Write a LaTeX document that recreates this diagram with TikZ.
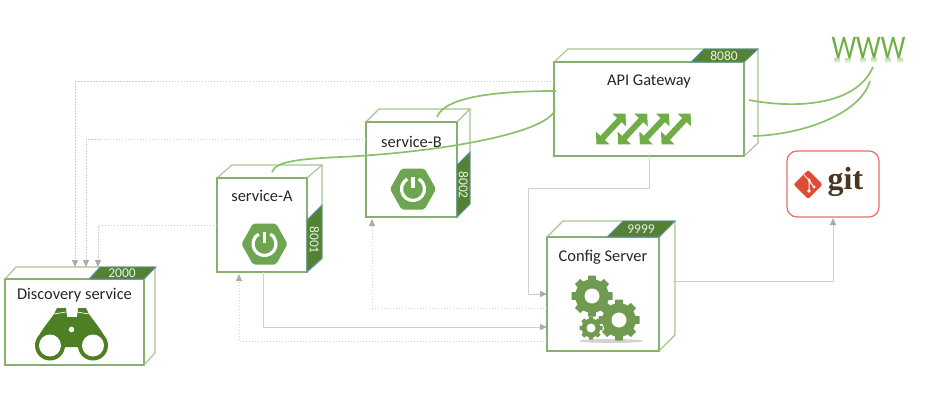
\documentclass[tikz,border=0pt]{standalone}
\usepackage{fontspec}
\setmainfont{Carlito}
\newfontfamily\gitfont{Liberation Serif}
\usepackage{xcolor}
\usepackage{tikz}
\usetikzlibrary{positioning, arrows.meta, fadings}

\definecolor{edgegreen}{HTML}{86B06E}
\definecolor{backgreen}{HTML}{A3C490}
\definecolor{curvegreen}{HTML}{8CC06C}
\definecolor{taggreen}{HTML}{548235}
\definecolor{tagblue}{HTML}{5F8FBF}
\definecolor{springgreen}{HTML}{6DA550}
\definecolor{darkgreen}{HTML}{4C8022}
\definecolor{arrowgreen}{HTML}{70AD47}
\definecolor{gearfill}{HTML}{6F9A50}
\definecolor{linegray}{HTML}{D0D0D0}
\definecolor{tipgray}{HTML}{ABABAB}
\definecolor{gitred}{HTML}{DE4C36}
\definecolor{gitbrown}{HTML}{4A3520}
\definecolor{gitedge}{HTML}{F06A6A}

\newcommand{\cubenode}[7]{
    \node[frontface, minimum width=#4pt, minimum height=#5pt] (#1) at (#2,#3) {};
    \draw[backedge] (#1.north west) -- ++(#6,-#7) -- ++(#4,0) -- ++(0,#5) -- (#1.south east);
    \draw[backedge] (#1.north east) -- ++(#6,-#7);
}

\begin{document}
\begin{tikzpicture}[x=1pt, y=-1pt, >=Stealth,
        frontface/.style={draw=edgegreen, fill=white, line width=1.1pt, inner sep=0pt, outer sep=0pt, anchor=north west},
        backedge/.style={draw=backgreen, line width=1.1pt},
        boxtitle/.style={font=\fontsize{16.4}{18}\selectfont, text=black!85, inner sep=0pt},
        tagface/.style={fill=taggreen, draw=tagblue, line width=0.8pt},
        tagtext/.style={font=\fontsize{13.5}{14}\selectfont, text=white!88!taggreen, inner sep=0pt},
        dotline/.style={draw=linegray, line width=1pt, dash pattern=on 1.5pt off 1.5pt, -{Triangle[length=7pt, width=6pt, color=tipgray]}},
        solidline/.style={draw=linegray, line width=1pt, -{Triangle[length=7pt, width=6pt, color=tipgray]}},
        greenline/.style={draw=curvegreen, line width=1.7pt},
        springicon/.pic={
            \fill[springgreen, rounded corners=2pt] (-23,0) -- (-11.5,-20.5) -- (11.5,-20.5) -- (23,0) -- (11.5,20.5) -- (-11.5,20.5) -- cycle;
            \draw[white, line width=3.2pt] (120:11.5pt) arc[start angle=120, end angle=420, radius=11.5pt];
            \draw[white, line width=3.2pt] (0pt,1pt) -- (0pt,12.5pt);
        },
        pics/gearicon/.style 2 args={code={
            \fill[gearfill] (0,0) circle ({0.82*#1});
            \foreach \a in {0,45,...,315}
                \fill[gearfill, rotate=\a] ({-0.27*#1},0) -- ({-0.18*#1},{#1}) -- ({0.18*#1},{#1}) -- ({0.27*#1},0) -- cycle;
            \fill[white] (0,0) circle (#2);
        }}
    ]

    \useasboundingbox (0,0) rectangle (930,404);

    \cubenode{discovery}{5}{279}{139}{86}{11}{12}
    \cubenode{svca}{217}{178}{90}{94}{15}{13}
    \cubenode{svcb}{366}{122}{91}{95}{13}{13}
    \cubenode{gateway}{554}{62}{190}{94}{14}{13}
    \cubenode{config}{547}{237}{112}{114}{16}{16}

    \node[draw=gitedge, fill=white, rounded corners=10pt, line width=1.2pt, minimum width=92pt, minimum height=66pt, inner sep=0pt, outer sep=0pt] (git) at (833,184) {};
    \node[font=\fontsize{33}{34}\selectfont, text=arrowgreen, inner sep=0pt, xscale=0.84] (www) at (868.5,47.5) {WWW};
    \coordinate (wwwupper) at (873,67);
    \coordinate (wwwlower) at (870,81);
    \coordinate (cfgbend) at (528,188);

    \node[boxtitle, below=9pt of discovery.north] (discoverytitle) {Discovery service};
    \node[boxtitle, below=12pt of svca.north] (svcatitle) {service-A};
    \node[boxtitle, below=14pt of svcb.north] (svcbtitle) {service-B};
    \node[boxtitle, below=13pt of gateway.north] (gatewaytitle) {API Gateway};
    \node[boxtitle, below=13pt of config.north] (configtitle) {Config Server};

    \draw[tagface] (89,279) -- (100,267) -- (156,267) -- (144,279) -- cycle;
    \node[tagtext] (discoveryport) at (122,273) {2000};
    \draw[tagface] (691,62) -- (704,49) -- (758,49) -- (744,62) -- cycle;
    \node[tagtext] (gatewayport) at (724,55.5) {8080};
    \draw[tagface] (607,237) -- (623,221) -- (675,221) -- (659,237) -- cycle;
    \node[tagtext] (configport) at (641,229) {9999};
    \draw[tagface] (307,220) -- (322,205) -- (322,258) -- (307,272) -- cycle;
    \node[tagtext, rotate=-90] (svcaport) at (314.5,240) {8001};
    \draw[tagface] (457,165) -- (470,152) -- (470,204) -- (457,217) -- cycle;
    \node[tagtext, rotate=-90] (svcbport) at (463.5,185) {8002};

    \draw[dotline] ([yshift=27pt]gateway.west) -| ([xshift=0.5pt, yshift=12pt]discovery.north);
    \draw[dotline] ([yshift=30.5pt]svcb.west) -| ([xshift=11.5pt, yshift=12pt]discovery.north);
    \draw[dotline] (svca.west) -| ([xshift=23.5pt, yshift=12pt]discovery.north);
    \draw[dotline] ([yshift=-47pt]config.west) -| ([xshift=-23pt, yshift=-2pt]svca.south);
    \draw[dotline] ([yshift=-14pt]config.west) -| ([xshift=-39.5pt, yshift=-2pt]svcb.south);
    \draw[solidline] ([xshift=1pt]svca.south) |- ([yshift=-33pt]config.west);
    \draw[solidline] (gateway.south) |- (cfgbend) |- (config.west);
    \draw[solidline] ([xshift=14pt, yshift=13pt]config.east) -| ([yshift=-1pt]git.south);

    \draw[greenline] ([xshift=10pt, yshift=6pt]svca.north) .. controls (276,161) and (300,159) .. (340,157) .. controls (430,153) and (545,135) .. ([xshift=1pt, yshift=-1pt]gateway.west);
    \draw[greenline] ([xshift=25.5pt, yshift=5pt]svcb.north) .. controls (445,96) and (500,91) .. ([xshift=2pt, yshift=18pt]gateway.west);
    \draw[greenline] ([xshift=5pt, yshift=9pt]gateway.east) .. controls (790,108) and (855,108) .. (wwwupper);
    \draw[greenline] ([xshift=9pt, yshift=-27pt]gateway.east) .. controls (800,135) and (860,115) .. (wwwlower);

    \foreach \x in {837,848,863,874,888,900}
        \fill[arrowgreen!45, path fading=south] (\x-3,58.5) rectangle (\x+3,63.5);

    \pic at (264.5,244) {springicon};
    \pic at (413,189) {springicon};

    \foreach \i in {0,1,2,3}
        \draw[arrowgreen, line width=6pt, {Triangle[length=9pt, width=18pt]}-{Triangle[length=9pt, width=18pt]}] (596.5+21.7*\i,144.5) -- (625.5+21.7*\i,113.5);

    \fill[darkgreen] (36,342) .. controls (40,331) and (48,323) .. (54,314) -- (57,308) -- (66,308) -- (67,317) -- (77,317) -- (78,308) -- (86,308) -- (89,314) .. controls (95,323) and (103,331) .. (107,342) -- (93,350) -- (76,347) -- (67,347) -- (50,350) -- cycle;
    \fill[darkgreen] (50,345.5) circle (15pt) (93,345.5) circle (15pt);
    \fill[white] (50,345.5) circle (11pt) (93,345.5) circle (11pt) (71.5,329.5) circle (2.8pt);
    \draw[white, line width=0.7pt] (54,314) -- (66,312) (77,312) -- (89,314);

    \fill[gray!35] (611,341) ellipse (32pt and 2pt);
    \pic at (592,296) {gearicon={20.5}{7.5}};
    \pic at (619,320) {gearicon={20.5}{7.5}};
    \pic at (591,328) {gearicon={11.5}{4.5}};

    \fill[gitred, rounded corners=2pt] (808,170) -- (822.5,184.5) -- (808,199) -- (793.5,184.5) -- cycle;
    \draw[white, line width=1pt] (804,175) -- (809,180) -- (809,191) (809,180) -- (813,186);
    \fill[white] (809,180) circle (1.6pt) (809,191) circle (1.8pt) (814,187) circle (1.6pt);
    \node[font=\fontsize{32}{33}\selectfont\gitfont\bfseries, text=gitbrown, inner sep=0pt] (gitword) at (845.5,182) {git};
\end{tikzpicture}
\end{document}
